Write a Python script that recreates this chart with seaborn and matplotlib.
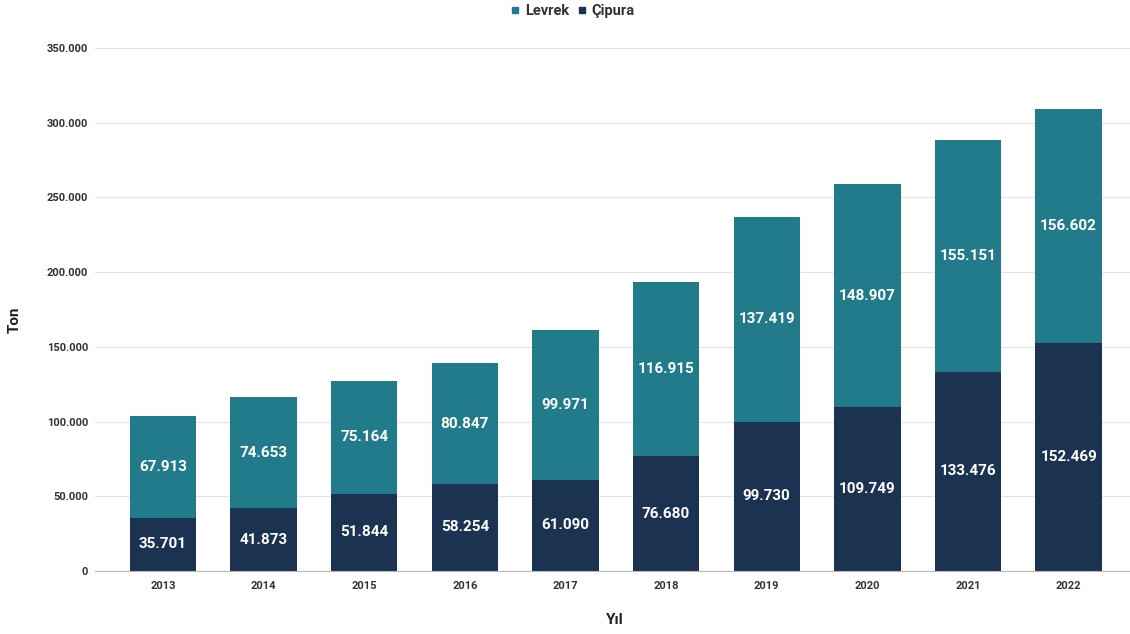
import matplotlib
matplotlib.use('Agg')
import matplotlib.pyplot as plt
import numpy as np
import pandas as pd
import seaborn as sns
from matplotlib.lines import Line2D
from matplotlib.ticker import FuncFormatter

years = ['2013', '2014', '2015', '2016', '2017', '2018', '2019', '2020', '2021', '2022']
cipura = [35701, 41873, 51844, 58254, 61090, 76680, 99730, 109749, 133476, 152469]
levrek = [67913, 74653, 75164, 80847, 99971, 116915, 137419, 148907, 155151, 156602]

teal = '#217b8a'
navy = '#1b3250'

df = pd.DataFrame({'year': years, 'cipura': cipura, 'levrek': levrek})
df['total'] = df['cipura'] + df['levrek']

sns.set_style('white')
plt.rcParams['font.family'] = ['Roboto', 'DejaVu Sans']

def fmt(v):
    return f'{int(v):,}'.replace(',', '.')

fig = plt.figure(figsize=(11.3, 6.34), dpi=100)
ax = fig.add_axes([0.0841, 0.0994, 0.9159, 0.8249])

# stacked look: totals first (Levrek colour), Çipura drawn over the bottom
sns.barplot(data=df, x='year', y='total', color=teal, width=0.66,
            saturation=1, linewidth=0, ax=ax)
sns.barplot(data=df, x='year', y='cipura', color=navy, width=0.66,
            saturation=1, linewidth=0, ax=ax)

for i, row in df.iterrows():
    ax.text(i, row['cipura'] / 2, fmt(row['cipura']), ha='center', va='center',
            color='white', fontsize=11, fontweight='bold')
    ax.text(i, row['cipura'] + row['levrek'] / 2, fmt(row['levrek']),
            ha='center', va='center', color='white', fontsize=11,
            fontweight='bold')

ax.set_xlim(-0.675, 9.61)
ax.set_ylim(0, 350000)
ax.set_yticks(np.arange(0, 350001, 50000))
ax.yaxis.set_major_formatter(FuncFormatter(lambda v, p: fmt(v)))
ax.grid(axis='y', color='#e3e3e3', linewidth=0.8)
ax.set_axisbelow(True)
for s in ['top', 'right', 'left']:
    ax.spines[s].set_visible(False)
ax.spines['bottom'].set_color('#b8b8b8')
ax.tick_params(axis='both', length=0, labelsize=8, labelcolor='#333333')
ax.tick_params(axis='y', pad=5)
ax.tick_params(axis='x', pad=7)
for lab in ax.get_xticklabels() + ax.get_yticklabels():
    lab.set_fontweight('bold')

ax.set_xlabel('')
ax.set_ylabel('')
fig.text(0.544, 0.022, 'Yıl', ha='center', va='center', fontsize=11,
         fontweight='bold', color='#222222')
fig.text(0.013, 0.495, 'Ton', ha='center', va='center', rotation=90,
         fontsize=11, fontweight='bold', color='#222222')

handles = [Line2D([0], [0], marker='s', linestyle='', color=teal, markersize=4.5),
           Line2D([0], [0], marker='s', linestyle='', color=navy, markersize=4.5)]
fig.legend(handles, ['Levrek', 'Çipura'], loc='center', bbox_to_anchor=(0.507, 0.983),
           ncol=2, frameon=False, handlelength=0.6, handletextpad=0.35,
           columnspacing=0.6, prop={'weight': 'bold', 'size': 10.5})
for t in fig.legends[0].get_texts():
    t.set_color('#333333')

fig.savefig('out.png', dpi=100)
